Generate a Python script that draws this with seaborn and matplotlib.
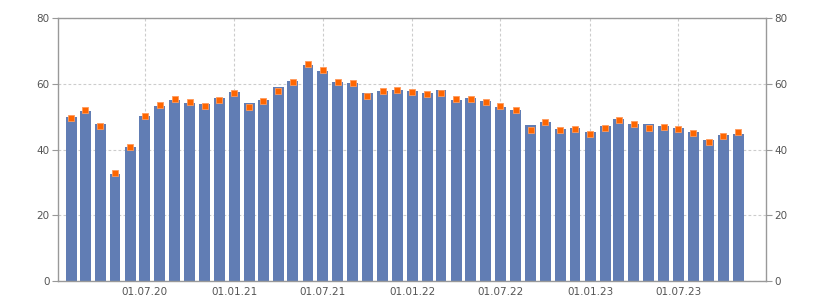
import matplotlib
matplotlib.use("Agg")
import matplotlib.pyplot as plt
import matplotlib.dates as mdates
import seaborn as sns
import pandas as pd
import numpy as np

months = pd.date_range("2020-02-01", "2023-11-01", freq="MS")
bar_values = [49.9, 51.8, 47.8, 32.6, 40.8, 50.3, 53.3, 55.1, 54.2, 53.9, 55.7,
              57.6, 54.2, 55.1, 59.1, 60.9, 65.8, 64.0, 60.6, 60.3, 57.3, 57.9, 58.2,
              57.9, 57.3, 58.2, 55.1, 55.7, 54.8, 53.0, 52.1, 47.5, 48.4, 46.3, 46.6,
              45.4, 47.2, 49.3, 47.8, 47.8, 47.2, 46.6, 45.4, 42.9, 44.5, 44.8]
marker_values = [49.7, 51.9, 47.1, 32.8, 40.7, 50.2, 53.5, 55.3, 54.3, 53.2, 55.1,
                 57.3, 52.9, 54.9, 57.9, 60.6, 66.1, 64.2, 60.4, 60.1, 56.2, 57.7, 58.2,
                 57.6, 56.9, 57.3, 55.4, 55.3, 54.6, 53.3, 52.1, 45.9, 48.4, 45.8, 46.2,
                 44.6, 46.6, 49.1, 47.9, 46.6, 46.8, 46.2, 45.0, 42.4, 44.2, 45.2]
tick_dates = ["2020-07-01", "2021-01-01", "2021-07-01", "2022-01-01",
              "2022-07-01", "2023-01-01", "2023-07-01"]
y_ticks = [0, 20, 40, 60, 80]

df = pd.DataFrame({"x": mdates.date2num(months), "bar": bar_values, "mark": marker_values})

fig = plt.figure(figsize=(8.25, 3.0), dpi=100)
ax = fig.add_axes([58/825, 1-281/300, (766-58)/825, (281-18)/300])

sns.barplot(data=df, x="x", y="bar", native_scale=True, width=0.8,
            color="#617DB4", saturation=1, ax=ax, zorder=2)
sns.scatterplot(data=df, x="x", y="mark", marker="s", s=18, color="#FF6600",
                edgecolor="#FF9A5C", linewidth=0.6, ax=ax, zorder=3)

ax.set_xlim(mdates.date2num(pd.Timestamp("2020-01-05")), mdates.date2num(pd.Timestamp("2023-12-28")))
ax.set_ylim(0, 80)
ax.set_yticks(y_ticks)
ax.set_xticks(mdates.date2num(pd.to_datetime(tick_dates)))
ax.xaxis.set_major_formatter(mdates.DateFormatter("%d.%m.%y"))
ax.set_xlabel("")
ax.set_ylabel("")

ax.grid(True, color="#CCCCCC", linestyle=(0, (2.5, 2)), linewidth=0.8, zorder=0)
ax.set_axisbelow(True)

for s in ax.spines.values():
    s.set_color("#999999")
    s.set_linewidth(1)

ax.yaxis.set_ticks_position("both")
ax.tick_params(axis="y", which="both", labelright=True, labelleft=True,
               length=4, color="#999999", labelcolor="#555555", labelsize=7.5, pad=2)
ax.tick_params(axis="x", length=0, labelcolor="#555555", labelsize=7.5, pad=4)
if ax.get_legend():
    ax.get_legend().remove()

fig.savefig("out.png", dpi=100)
